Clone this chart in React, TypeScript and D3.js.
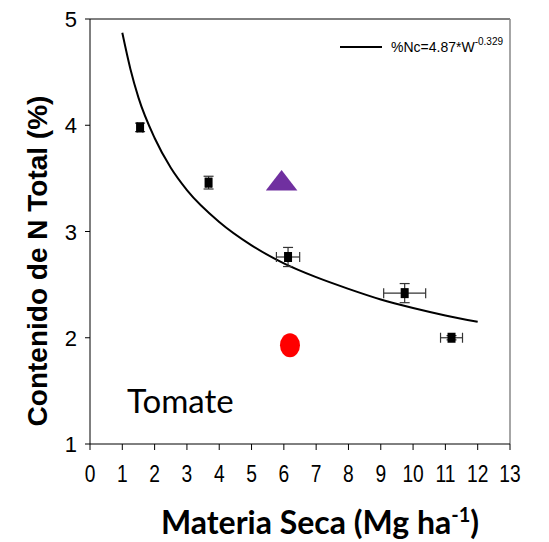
import React from 'react';
import * as d3 from 'd3';

// Dry matter (Mg/ha) vs total N (%) — observed means with SE
const obsX = [1.55, 3.67, 6.13, 9.74, 11.19];
const obsY = [3.98, 3.46, 2.76, 2.42, 2.0];
const obsXErr = [0.08, 0.08, 0.36, 0.65, 0.34];
const obsYErr = [0.04, 0.06, 0.09, 0.09, 0.02];

// extra treatments
const triPoint = { x: 5.93, y: 3.47 };
const circlePoint = { x: 6.19, y: 1.93 };

// critical dilution curve
const curveX = [1, 1.25, 1.5, 2, 2.5, 3, 4, 5, 6, 7, 8, 9, 10, 11, 12];
const curveY = [4.87, 4.53, 4.26, 3.88, 3.6, 3.39, 3.09, 2.87, 2.7, 2.57, 2.46, 2.36, 2.28, 2.21, 2.15];

const xTicks = d3.range(0, 14);
const yTicks = [1, 2, 3, 4, 5];

const W = 549;
const H = 542;
const margin = { left: 90, right: 39, top: 19, bottom: 98 };

const narrow = '"Liberation Sans Narrow", "Arial Narrow", "Liberation Sans", Arial, sans-serif';

const App: React.FC = () => {
  const x = d3.scaleLinear().domain([0, 13]).range([margin.left, W - margin.right]);
  const y = d3.scaleLinear().domain([1, 5]).range([H - margin.bottom, margin.top]);

  const line = d3.line<number>()
    .x((_, i) => x(curveX[i]))
    .y(d => y(d))
    .curve(d3.curveMonotoneX);

  const triPath = d3.symbol().type(d3.symbolTriangle).size(300)();

  const x0 = x(0), x1 = x(13), y0 = y(1), y1 = y(5);

  return (
    <svg width={W} height={H} style={{ position: 'absolute', left: 0, top: 0, background: '#fff' }}>
      {/* frame */}
      <line x1={x0} x2={x1} y1={y1} y2={y1} stroke="#000" strokeWidth={1} />
      <line x1={x1} x2={x1} y1={y1} y2={y0} stroke="#888" strokeWidth={1.5} />
      <line x1={x0} x2={x0} y1={y1} y2={y0} stroke="#000" strokeWidth={1} />
      <line x1={x0} x2={x1} y1={y0} y2={y0} stroke="#000" strokeWidth={1} />

      {/* y ticks */}
      {yTicks.map(t => (
        <g key={'y' + t}>
          <line x1={x0 - 5} x2={x0} y1={y(t)} y2={y(t)} stroke="#000" />
          <text x={x0 - 13} y={y(t) + 8} textAnchor="end" fontFamily={narrow} fontSize={22}>{t}</text>
        </g>
      ))}

      {/* x ticks */}
      {xTicks.map(t => (
        <g key={'x' + t}>
          <line x1={x(t)} x2={x(t)} y1={y0} y2={y0 + 6} stroke="#000" />
          <text
            transform={`translate(${x(t)},${y0 + 38}) scale(0.8,1)`}
            textAnchor="middle"
            fontFamily={narrow}
            fontSize={24}
          >
            {t}
          </text>
        </g>
      ))}

      {/* curve */}
      <path d={line(curveY) || ''} fill="none" stroke="#000" strokeWidth={2} />

      {/* error bars */}
      {obsX.map((vx, i) => {
        const cx = x(vx), cy = y(obsY[i]);
        const xl = x(vx - obsXErr[i]), xr = x(vx + obsXErr[i]);
        const yt = y(obsY[i] + obsYErr[i]), yb = y(obsY[i] - obsYErr[i]);
        return (
          <g key={'e' + i} stroke="#333" strokeWidth={1.2}>
            <line x1={xl} x2={xr} y1={cy} y2={cy} />
            <line x1={xl} x2={xl} y1={cy - 5} y2={cy + 5} />
            <line x1={xr} x2={xr} y1={cy - 5} y2={cy + 5} />
            <line x1={cx} x2={cx} y1={yt} y2={yb} />
            <line x1={cx - 5} x2={cx + 5} y1={yt} y2={yt} />
            <line x1={cx - 5} x2={cx + 5} y1={yb} y2={yb} />
          </g>
        );
      })}
      {obsX.map((vx, i) => (
        <rect key={'s' + i} x={x(vx) - 4} y={y(obsY[i]) - 5} width={8} height={10} fill="#000" />
      ))}

      {/* triangle */}
      <path d={triPath || ''} transform={`translate(${x(triPoint.x)},${y(triPoint.y) + 2}) scale(1.2,0.9)`} fill="#7030A0" />

      {/* red circle */}
      <ellipse cx={x(circlePoint.x)} cy={y(circlePoint.y)} rx={10} ry={12} fill="#FF0000" />

      {/* legend */}
      <line x1={340} x2={382} y1={47} y2={47} stroke="#000" strokeWidth={2} />
      <text x={391} y={52} fontFamily={narrow} fontSize={14}>
        %Nc=4.87*W<tspan dy={-7} fontSize={10}>-0.329</tspan>
      </text>

      {/* label inside plot */}
      <text x={127} y={413} fontFamily="Lato, 'Open Sans', sans-serif" fontSize={33}>Tomate</text>

      {/* axis titles */}
      <text
        transform={`translate(47, 261) rotate(-90)`}
        textAnchor="middle"
        fontFamily="'Liberation Sans', Arial, sans-serif"
        fontWeight="bold"
        fontSize={28}
      >
        Contenido de N Total (%)
      </text>
      <text x={320} y={534} textAnchor="middle" fontFamily="Lato, 'Open Sans', sans-serif" fontWeight="bold" fontSize={32}>
        Materia Seca (Mg ha<tspan dy={-12} fontSize={20}>-1</tspan><tspan dy={12}>)</tspan>
      </text>
    </svg>
  );
};

export default App;
